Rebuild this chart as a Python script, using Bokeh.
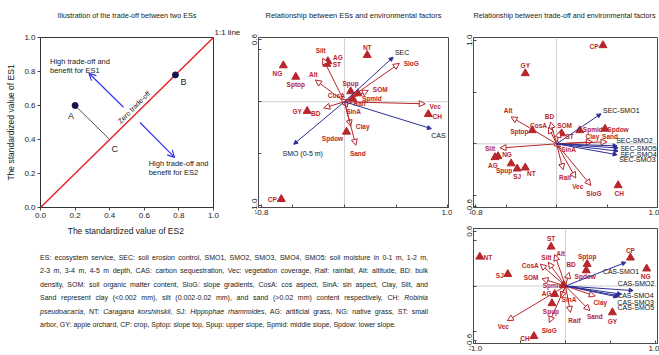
from bokeh.plotting import figure
from bokeh.models import (Arrow, NormalHead, OpenHead, Span, Label, FixedTicker, Title,
                          ColumnDataSource, Div, PrintfTickFormatter)
from bokeh.layouts import row, column
from bokeh.embed import file_html
from bokeh.resources import INLINE
from bokeh.core.properties import value

# ---------------- data ----------------
# Panel 1: illustration
P1_PT_NAMES = ["A", "B"]
P1_PT_X = [0.2, 0.78]
P1_PT_Y = [0.6, 0.78]
P1_FOOT_NAME = "C"
P1_FOOT_X = 0.4
P1_FOOT_Y = 0.4
P1_ONE_X = [0.0, 1.0]
P1_ONE_Y = [0.0, 1.0]
P1_ARR_X0 = [0.48, 0.575]
P1_ARR_Y0 = [0.59, 0.50]
P1_ARR_X1 = [0.28, 0.775]
P1_ARR_Y1 = [0.79, 0.295]
P1_TICKS = [0.0, 0.2, 0.4, 0.6, 0.8, 1.0]

# Panel 2: ESs vs environmental factors
P2_ENV_NAMES = ["Silt", "Alt", "SloG", "SOM", "CosA", "Raif", "SinA", "Vec", "BD", "Clay", "Sand"]
P2_ENV_X = [-0.21, -0.28, 0.53, 0.23, -0.03, 0.07, 0.03, 0.78, -0.20, 0.06, 0.11]
P2_ENV_Y = [0.42, 0.21, 0.37, 0.11, 0.03, -0.01, -0.05, -0.02, -0.06, -0.235, -0.42]
P2_ES_NAMES = ["SEC", "CAS", "SMO (0-5 m)"]
P2_ES_X = [0.47, 0.84, -0.49]
P2_ES_Y = [0.43, -0.26, -0.41]
P2_SITE_NAMES = ["NT", "AG", "ST", "NG", "Sptop", "Spup", "Spmid", "SJ", "GY", "CH", "Spdow", "CP"]
P2_SITE_X = [0.22, -0.16, -0.17, -0.59, -0.47, 0.06, 0.13, 0.08, -0.36, 0.81, 0.02, -0.61]
P2_SITE_Y = [0.45, 0.39, 0.365, 0.35, 0.24, 0.10, 0.08, 0.03, -0.09, -0.12, -0.29, -0.94]
P2_XTICKS = [-0.8, 1.0]
P2_XMINOR = [-0.5, 0.0, 0.5]
P2_YTICKS = [-1.0, 0.6]
P2_YMINOR = [-0.5, 0.0, 0.5]

# Panel 3: trade-off (SEC-SMO) vs environmental factors
P3_ENV_NAMES = ["Alt", "BD", "CosA", "Silt", "SOM", "Clay", "Sand", "SinA", "Raif", "Vec", "SloG"]
P3_ENV_X = [-0.45, -0.06, -0.08, -0.56, 0.03, 0.355, 0.50, 0.04, 0.065, 0.19, 0.34]
P3_ENV_Y = [0.26, 0.21, 0.16, -0.04, 0.12, 0.02, 0.02, -0.03, -0.25, -0.33, -0.40]
P3_ES_NAMES = ["SEC-SMO1", "SEC-SMO2", "SEC-SMO5", "SEC-SMO4", "SEC-SMO3"]
P3_ES_X = [0.44, 0.60, 0.61, 0.61, 0.60]
P3_ES_Y = [0.29, -0.02, -0.04, -0.07, -0.105]
P3_SITE_NAMES = ["GY", "CP", "Sptop", "NG", "AG", "Spup", "SJ", "NT", "ST", "Spmid", "Spdow", "CH"]
P3_SITE_X = [-0.31, 0.46, -0.24, -0.58, -0.61, -0.45, -0.39, -0.31, 0.05, 0.23, 0.48, 0.61]
P3_SITE_Y = [0.68, 0.95, 0.13, -0.12, -0.13, -0.19, -0.24, -0.23, 0.10, 0.13, 0.145, -0.40]
P3_XTICKS = [-0.8, 1.0]
P3_XMINOR = [-0.5, 0.0, 0.5]
P3_YTICKS = [-0.6, 1.0]
P3_YMINOR = [-0.5, 0.0, 0.5]

# Panel 4: trade-off (CAS-SMO) vs environmental factors
P4_ENV_NAMES = ["Alt", "Silt", "CosA", "SOM", "SinA", "Vec", "SloG", "BD", "Clay", "Sand", "Raif"]
P4_ENV_X = [-0.12, -0.19, -0.28, -0.26, -0.05, -0.645, -0.18, 0.04, 0.33, 0.27, 0.055]
P4_ENV_Y = [0.345, 0.26, 0.24, 0.08, -0.13, -0.38, -0.40, 0.15, -0.11, -0.27, -0.29]
P4_ES_NAMES = ["CAS-SMO1", "CAS-SMO2", "CAS-SMO4", "CAS-SMO3", "CAS-SMO5"]
P4_ES_X = [0.67, 0.75, 0.62, 0.60, 0.58]
P4_ES_Y = [0.26, -0.05, -0.09, -0.11, -0.12]
P4_SITE_NAMES = ["NT", "SJ", "ST", "Spmid", "AG", "Spup", "CH", "Sptop", "Spdow", "CP", "NG", "GY"]
P4_SITE_X = [-0.95, -0.64, -0.16, -0.02, -0.12, -0.15, -0.35, 0.24, 0.23, 0.72, 0.90, 0.52]
P4_SITE_Y = [0.32, 0.13, 0.43, 0.01, -0.09, -0.19, -0.55, 0.24, 0.17, 0.31, 0.19, -0.29]
P4_XTICKS = [-1.0, 1.0]
P4_XMINOR = [-0.5, 0.0, 0.5]
P4_YTICKS = [-0.6, 0.6]
P4_YMINOR = [-0.5, 0.0, 0.5]

TITLE1 = "Illustration of the trade-off between two ESs"
TITLE2 = "Relationship between ESs and environmental factors"
TITLE3 = "Relationship between trade-off and environmental factors"

NOTE_LINES = [
    "ES: ecosystem service, SEC: soil erosion control, SMO1, SMO2, SMO3, SMO4, SMO5: soil moisture in 0-1 m, 1-2 m,",
    "2-3 m, 3-4 m, 4-5 m depth, CAS: carbon sequestration, Vec: vegetation coverage, Raif: rainfall, Alt: altitude, BD: bulk",
    "density, SOM: soil organic matter content, SloG: slope gradients, CosA: cos aspect, SinA: sin aspect, Clay, Silt, and",
    "Sand represent clay (&lt;0.002 mm), silt (0.002-0.02 mm), and sand (&gt;0.02 mm) content respectively, CH: <i>Robinia</i>",
    "<i>pseudoacacia</i>, NT: <i>Caragana korshinskii</i>, SJ: <i>Hippophae rhamnoides</i>, AG: artificial grass, NG: native grass, ST: small",
    "arbor, GY: apple orchard, CP: crop, Sptop: slope top, Spup: upper slope, Spmid: middle slope, Spdow: lower slope.",
]

# ---------------- label placement (pixels: dx right, dy down) ----------------
P2_OFF = {
    "NT": (0, -8), "AG": (10, -4), "ST": (10, 1), "NG": (-6, 8), "Sptop": (0, 8), "Spup": (0, -8),
    "Spmid": (14, 5), "GY": (-10, 0), "CH": (9, 2), "Spdow": (-14, 7), "CP": (-9, 0),
    "Silt": (-2, -8), "Alt": (-2, -6), "SloG": (12, 0), "SOM": (12, -1), "CosA": (-5, -3),
    "Raif": (8, 1), "SinA": (6, 5), "Vec": (10, 3), "BD": (-8, 6), "Clay": (12, 0), "Sand": (2, 8),
    "SEC": (9, -5), "CAS": (7, 7), "SMO (0-5 m)": (9, 9),
}
P3_OFF = {
    "GY": (0, -8), "CP": (-9, 1), "Sptop": (-13, 1), "NG": (9, -2), "AG": (-2, 8), "Spup": (-7, 7),
    "SJ": (0, 8), "NT": (6, 6), "ST": (8, 3), "Spmid": (13, -1), "Spdow": (13, 1), "CH": (1, 8),
    "Alt": (-3, -6), "BD": (-1, -6), "CosA": (-10, -2), "Silt": (-10, 0), "SOM": (5, -6),
    "Clay": (0, -5), "Sand": (3, -5), "SinA": (8, 3), "Raif": (2, 8), "Vec": (2, 8), "SloG": (3, 8),
    "SEC-SMO1": (2, -3, "left"), "SEC-SMO2": (-1, -5, "left"), "SEC-SMO5": (2, 0, "left"),
    "SEC-SMO4": (2, 3, "left"), "SEC-SMO3": (2, 5, "left"),
}
P4_OFF = {
    "NT": (8, 1), "SJ": (-8, 1), "ST": (0, -8), "Spmid": (-11, 0), "AG": (-8, -1), "Spup": (-1, 8),
    "CH": (-9, 2), "Sptop": (0, -8), "Spdow": (-1, 6), "CP": (0, -7), "NG": (-1, 8), "GY": (0, 9),
    "Alt": (6, -1), "Silt": (-2, -5), "CosA": (-10, 1), "SOM": (-11, -1), "SinA": (8, 2),
    "Vec": (-4, 6), "SloG": (0, 8), "BD": (2, -8), "Clay": (5, 6), "Sand": (5, 6), "Raif": (4, 8),
    "CAS-SMO1": (-5, 9), "CAS-SMO2": (3, -7), "CAS-SMO4": (14, 1), "CAS-SMO3": (16, 6),
    "CAS-SMO5": (18, 11),
}

FONT = "Liberation Sans"
RED = "#B8262C"
NAVY = "#2E2E96"
AXC = "#4A4A4A"
TXT = "#222222"


def base_fig(w, h, borders, xr, yr):
    bl, br, bt, bb = borders
    p = figure(width=w, height=h, x_range=xr, y_range=yr, output_backend="svg",
               toolbar_location=None, min_border_left=bl, min_border_right=br,
               min_border_top=bt, min_border_bottom=bb)
    p.grid.visible = False
    p.background_fill_color = "white"
    p.border_fill_color = "white"
    p.outline_line_color = AXC
    return p


def set_title(p, text, align, size, standoff, offset=0):
    p.title.text = text
    p.title.align = align
    p.title.text_font = FONT
    p.title.text_font_size = size
    p.title.text_font_style = "normal"
    p.title.text_color = TXT
    p.title.standoff = standoff
    p.title.offset = offset


def add_spacer(p, size):
    # blank title panel between the frame and the real title
    p.add_layout(Title(text=" ", standoff=0, text_font=FONT, text_font_size=size,
                       text_font_style="normal"), "above")


def style_axis(ax, size="8px"):
    ax.axis_line_color = AXC
    ax.major_tick_line_color = AXC
    ax.minor_tick_line_color = AXC
    ax.major_label_text_font = FONT
    ax.major_label_text_font_size = size
    ax.major_label_text_color = TXT
    ax.axis_label_text_font = FONT
    ax.axis_label_text_font_style = "normal"
    ax.axis_label_text_color = TXT
    ax.formatter = PrintfTickFormatter(format="%.1f")


def add_labels(p, names, xs, ys, offs, color, style, size):
    d = dict(x=[], y=[], t=[], dx=[], dy=[], al=[])
    for n, x, y in zip(names, xs, ys):
        if n not in offs:
            continue
        o = offs[n]
        d["x"].append(x)
        d["y"].append(y)
        d["t"].append(n)
        d["dx"].append(o[0])
        d["dy"].append(o[1])
        d["al"].append(o[2] if len(o) > 2 else "center")
    p.text(x="x", y="y", text="t", x_offset="dx", y_offset="dy", text_align="al",
           text_baseline="middle", source=ColumnDataSource(d), text_font=value(FONT),
           text_font_style=style, text_font_size=size, text_color=color)


def ordination(w, h, borders, xr, yr, xt, xm, yt, ym, env, es, sites, offs):
    p = base_fig(w, h, borders, xr, yr)
    for dim in ("width", "height"):
        p.add_layout(Span(location=0, dimension=dim, line_color="#CFCFCF",
                          line_width=1, level="underlay"))
    en, ex, ey = env
    src = ColumnDataSource(dict(x0=[0] * len(ex), y0=[0] * len(ex), x1=ex, y1=ey))
    p.add_layout(Arrow(source=src, x_start="x0", y_start="y0", x_end="x1", y_end="y1",
                       line_color=RED, line_width=1,
                       end=NormalHead(size=6, fill_color="white", line_color=RED, line_width=1)))
    sn, sx, sy = es
    src2 = ColumnDataSource(dict(x0=[0] * len(sx), y0=[0] * len(sx), x1=sx, y1=sy))
    p.add_layout(Arrow(source=src2, x_start="x0", y_start="y0", x_end="x1", y_end="y1",
                       line_color=NAVY, line_width=1,
                       end=NormalHead(size=4, fill_color=NAVY, line_color=NAVY, line_width=1)))
    tn, tx, ty = sites
    p.scatter(tx, ty, marker="triangle", size=8, fill_color=RED, line_color=RED)
    add_labels(p, tn, tx, ty, offs, RED, "bold", "6.5px")
    add_labels(p, en, ex, ey, offs, RED, "bold", "6.5px")
    add_labels(p, sn, sx, sy, offs, "#111111", "normal", "7px")

    p.xaxis.ticker = FixedTicker(ticks=xt, minor_ticks=xm)
    p.yaxis.ticker = FixedTicker(ticks=yt, minor_ticks=ym)
    for ax in (p.xaxis[0], p.yaxis[0]):
        style_axis(ax)
        ax.major_tick_in = 3
        ax.major_tick_out = 0
        ax.minor_tick_in = 3
        ax.minor_tick_out = 0
        ax.major_label_standoff = 2
    p.yaxis.major_label_orientation = "vertical"
    p.yaxis.major_label_standoff = 1
    return p


# ---------------- panel 1 ----------------
p1 = base_fig(240, 240, (40, 27, 37, 33), (0, 1), (0, 1))
p1.outline_line_color = "#333333"
p1.line(P1_ONE_X, P1_ONE_Y, line_color="#E3262B", line_width=1.5)
p1.line([P1_PT_X[0], P1_FOOT_X], [P1_PT_Y[0], P1_FOOT_Y], line_color="#555555", line_width=1)
p1.scatter(P1_PT_X, P1_PT_Y, marker="circle", size=6, fill_color="#14144A", line_color="#14144A")
for i in range(len(P1_ARR_X0)):
    p1.add_layout(Arrow(x_start=P1_ARR_X0[i], y_start=P1_ARR_Y0[i], x_end=P1_ARR_X1[i],
                        y_end=P1_ARR_Y1[i], line_color="#3535F0", line_width=1.2,
                        end=OpenHead(size=7, line_color="#3535F0", line_width=1.2)))
pt_off = {"A": (-4, 10), "B": (8, 7)}
for n, x, y in zip(P1_PT_NAMES, P1_PT_X, P1_PT_Y):
    p1.add_layout(Label(x=x, y=y, text=n, x_offset=pt_off[n][0], y_offset=-pt_off[n][1],
                        text_font=FONT, text_font_size="9px", text_color=TXT,
                        text_align="center", text_baseline="middle"))
p1.add_layout(Label(x=P1_FOOT_X, y=P1_FOOT_Y, text=P1_FOOT_NAME, x_offset=5, y_offset=-9,
                    text_font=FONT, text_font_size="9px", text_color=TXT,
                    text_align="center", text_baseline="middle"))
p1.add_layout(Label(x=0.54, y=0.59, text="Zero trade-off", angle=0.785,
                    text_font=FONT, text_font_size="7px", text_color=TXT,
                    text_align="center", text_baseline="middle"))
for t, y in (("High trade-off and", 0.86), ("benefit for ES1", 0.805)):
    p1.add_layout(Label(x=0.055, y=y, text=t, text_font=FONT, text_font_size="7.5px",
                        text_color=TXT, text_align="left", text_baseline="middle"))
for t, y in (("High trade-off and", 0.26), ("benefit for ES2", 0.205)):
    p1.add_layout(Label(x=0.625, y=y, text=t, text_font=FONT, text_font_size="7.5px",
                        text_color=TXT, text_align="left", text_baseline="middle"))
p1.add_layout(Title(text="1:1 line", align="left", offset=174, standoff=1, text_font=FONT,
                    text_font_size="8px", text_font_style="normal", text_color=TXT), "above")
set_title(p1, TITLE1, "center", "7.2px", 11)
p1.xaxis.ticker = FixedTicker(ticks=P1_TICKS, minor_ticks=[])
p1.yaxis.ticker = FixedTicker(ticks=P1_TICKS, minor_ticks=[])
for ax in (p1.xaxis[0], p1.yaxis[0]):
    style_axis(ax)
    ax.axis_line_color = "#333333"
    ax.major_tick_in = 0
    ax.major_tick_out = 3
    ax.major_label_standoff = 2
    ax.axis_label_text_font_size = "8.5px"
    ax.axis_label_standoff = 5
p1.xaxis.axis_label = "The standardized value of  ES2"
p1.yaxis.axis_label = "The standardized value of ES1"

# ---------------- panel 2 ----------------
p2 = ordination(212, 240, (18, 4, 37, 33), (-0.83, 1.005), (-1.02, 0.62),
                P2_XTICKS, P2_XMINOR, P2_YTICKS, P2_YMINOR,
                (P2_ENV_NAMES, P2_ENV_X, P2_ENV_Y), (P2_ES_NAMES, P2_ES_X, P2_ES_Y),
                (P2_SITE_NAMES, P2_SITE_X, P2_SITE_Y), P2_OFF)
add_spacer(p2, "7.5px")
set_title(p2, TITLE2, "center", "7.5px", 13)

# ---------------- panel 3 ----------------
p3 = ordination(207, 220, (21, 2, 37, 13), (-0.823, 1.0), (-0.614, 1.026),
                P3_XTICKS, P3_XMINOR, P3_YTICKS, P3_YMINOR,
                (P3_ENV_NAMES, P3_ENV_X, P3_ENV_Y), (P3_ES_NAMES, P3_ES_X, P3_ES_Y),
                (P3_SITE_NAMES, P3_SITE_X, P3_SITE_Y), P3_OFF)
add_spacer(p3, "7.5px")
set_title(p3, TITLE3, "left", "7.2px", 13)

# ---------------- panel 4 ----------------
p4 = ordination(207, 135, (21, 2, 8, 12), (-1.02, 1.02), (-0.63, 0.63),
                P4_XTICKS, P4_XMINOR, P4_YTICKS, P4_YMINOR,
                (P4_ENV_NAMES, P4_ENV_X, P4_ENV_Y), (P4_ES_NAMES, P4_ES_X, P4_ES_Y),
                (P4_SITE_NAMES, P4_SITE_X, P4_SITE_Y), P4_OFF)

# ---------------- note text ----------------
rows_html = []
for i, ln in enumerate(NOTE_LINES):
    last = "justify" if i < len(NOTE_LINES) - 1 else "left"
    rows_html.append(f"<div style=\"text-align:justify;text-align-last:{last};\">{ln}</div>")
note_html = ("<div style=\"box-sizing:content-box;margin:0;padding:11px 0 0 40px;width:388px;"
             "font-family:'Liberation Sans',Arial,sans-serif;font-size:7px;line-height:13.4px;"
             "color:#222;\">" + "".join(rows_html) + "</div>")
note = Div(text=note_html, width=452, height=115, margin=(0, 0, 0, 0))

layout = row(column(row(p1, p2), note), column(p3, p4))

with open("out.html", "w") as f:
    f.write(file_html(layout, INLINE))
